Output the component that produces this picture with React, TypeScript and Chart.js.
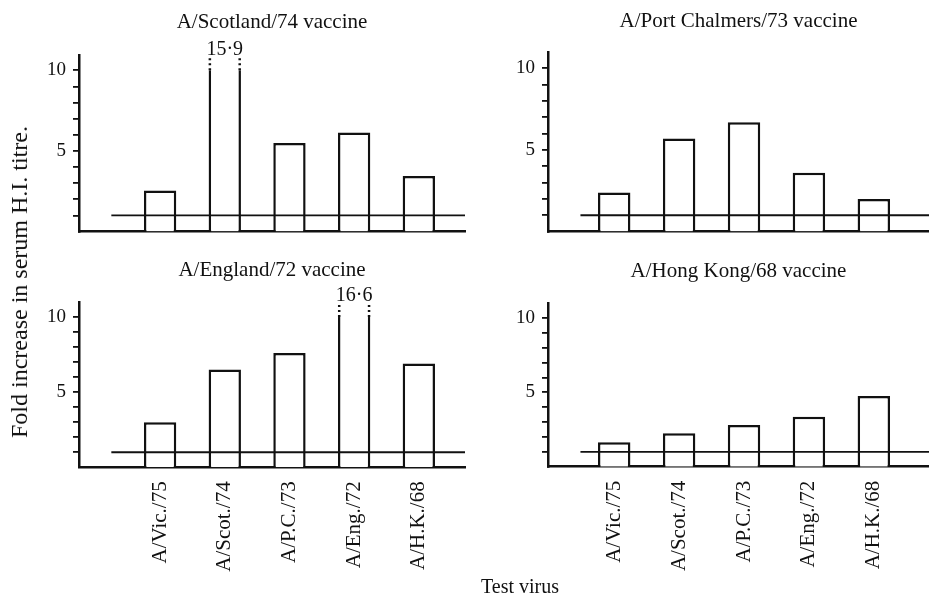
import React, { useEffect, useRef } from 'react';
import { Chart, registerables } from 'chart.js';

Chart.register(...registerables);

// ---------- data ----------
const CATEGORIES = ['A/Vic./75', 'A/Scot./74', 'A/P.C./73', 'A/Eng./72', 'A/H.K./68'];
const SCOTLAND_74 = [2.55, 15.9, 5.5, 6.15, 3.45];
const PORT_CHALMERS_73 = [2.4, 5.7, 6.7, 3.6, 2.0];
const ENGLAND_72 = [3.0, 6.5, 7.6, 16.6, 6.9];
const HONG_KONG_68 = [1.65, 2.25, 2.8, 3.35, 4.75];
const Y_TICK_VALUES = [1, 2, 3, 4, 5, 6, 7, 8, 9, 10];
const Y_TICK_LABELS = [5, 10];
const Y_BREAK = 10;
const NO_CHANGE_LEVEL = 1;
const Y_AXIS_TITLE = 'Fold increase in serum H.I. titre.';
const X_AXIS_TITLE = 'Test virus';

// ---------- style ----------
const INK = '#111';
const SERIF = "'Liberation Serif', 'DejaVu Serif', 'Times New Roman', serif";

type PanelCfg = {
  title: string;
  values: number[];
  left: number;
  top: number;
  width: number;
  height: number;
  yAxisWidth: number;
  padRight: number;
  padBottom: number;
  titleTop: number;
  titleBottom: number;
  xAxisHeight: number;
  xMin: number;
  xMax: number;
  yMax: number;
  showLabels: boolean;
};

const PANELS: PanelCfg[] = [
  {
    title: 'A/Scotland/74 vaccine', values: SCOTLAND_74,
    left: 0, top: 0, width: 470, height: 250,
    yAxisWidth: 79, padRight: 5, padBottom: 14.5, titleTop: 10, titleBottom: 21,
    xAxisHeight: 0, xMin: -1.254, xMax: 4.714, yMax: 10.95, showLabels: false,
  },
  {
    title: 'A/Port Chalmers/73 vaccine', values: PORT_CHALMERS_73,
    left: 470, top: 0, width: 459, height: 250,
    yAxisWidth: 78, padRight: 0, padBottom: 14, titleTop: 9, titleBottom: 19,
    xAxisHeight: 0, xMin: -1.02, xMax: 4.85, yMax: 11.0, showLabels: false,
  },
  {
    title: 'A/England/72 vaccine', values: ENGLAND_72,
    left: 0, top: 250, width: 470, height: 350,
    yAxisWidth: 79, padRight: 5, padBottom: 0, titleTop: 8, titleBottom: 20,
    xAxisHeight: 132.7, xMin: -1.254, xMax: 4.714, yMax: 11.0, showLabels: true,
  },
  {
    title: 'A/Hong Kong/68 vaccine', values: HONG_KONG_68,
    left: 470, top: 250, width: 459, height: 350,
    yAxisWidth: 78, padRight: 0, padBottom: 0, titleTop: 9, titleBottom: 20,
    xAxisHeight: 133.3, xMin: -1.02, xMax: 4.85, yMax: 11.0, showLabels: true,
  },
];

const decorations = {
  id: 'decorations',
  afterDatasetsDraw(chart: any) {
    const { ctx, chartArea } = chart;
    const xs = chart.scales.x;
    const ys = chart.scales.y;
    const meta = chart.getDatasetMeta(0);
    const pts = chart.data.datasets[0].data as { x: number; y: number }[];
    ctx.save();
    meta.data.forEach((el: any, i: number) => {
      const v = pts[i].y;
      if (v <= Y_BREAK) return;
      const yb = ys.getPixelForValue(Y_BREAK);
      const half = el.width / 2;
      ctx.fillStyle = '#fff';
      ctx.fillRect(el.x - half - 2, chartArea.top - 3, el.width + 4, yb - chartArea.top + 3);
      ctx.strokeStyle = INK;
      ctx.lineWidth = 2.5;
      ctx.setLineDash([2, 3]);
      [el.x - half + 1.25, el.x + half - 1.25].forEach((px) => {
        ctx.beginPath();
        ctx.moveTo(px, yb);
        ctx.lineTo(px, yb - 13);
        ctx.stroke();
      });
      ctx.setLineDash([]);
      ctx.fillStyle = INK;
      ctx.font = `20px ${SERIF}`;
      ctx.textAlign = 'center';
      ctx.textBaseline = 'middle';
      ctx.fillText(v.toFixed(1).replace('.', '·'), el.x, yb - 21);
    });
    const refY = ys.getPixelForValue(NO_CHANGE_LEVEL);
    ctx.strokeStyle = INK;
    ctx.lineWidth = 1.8;
    ctx.beginPath();
    ctx.moveTo(xs.getPixelForValue(xs.min + 0.5), refY);
    ctx.lineTo(chartArea.right, refY);
    ctx.stroke();
    ctx.restore();
  },
};

function Panel({ p }: { p: PanelCfg }) {
  const ref = useRef<HTMLCanvasElement | null>(null);
  useEffect(() => {
    if (!ref.current) return;
    const chart = new Chart(ref.current, {
      type: 'bar',
      data: {
        datasets: [
          {
            data: CATEGORIES.map((_, i) => ({ x: i, y: p.values[i] })) as any,
            backgroundColor: '#fff',
            borderColor: INK,
            borderWidth: 2.5,
            borderSkipped: 'start',
            barPercentage: 0.5,
            categoryPercentage: 1,
            clip: 0 as any,
          },
        ],
      },
      options: {
        responsive: false,
        animation: false,
        events: [],
        layout: { padding: { left: 0, right: p.padRight, top: 0, bottom: p.padBottom } },
        plugins: {
          legend: { display: false },
          tooltip: { enabled: false },
          title: {
            display: true,
            text: p.title,
            fullSize: false,
            color: INK,
            font: { family: SERIF, size: 21, weight: 'normal', lineHeight: '24px' as any },
            padding: { top: p.titleTop, bottom: p.titleBottom },
          },
        },
        scales: {
          x: {
            type: 'linear',
            min: p.xMin,
            max: p.xMax,
            offset: false,
            grid: { display: false },
            border: { display: true, color: INK, width: 2.5 },
            ticks: {
              display: p.showLabels,
              autoSkip: false,
              minRotation: 90,
              maxRotation: 90,
              padding: 6,
              color: INK,
              font: { family: SERIF, size: 21 },
              callback: (v: any) => CATEGORIES[Math.round(Number(v))] ?? '',
            },
            afterBuildTicks: (s: any) => {
              s.ticks = CATEGORIES.map((_, i) => ({ value: i }));
            },
            afterFit: (s: any) => {
              s.height = p.xAxisHeight;
            },
          },
          y: {
            type: 'linear',
            min: 0,
            max: p.yMax,
            grid: {
              display: true,
              drawOnChartArea: false,
              drawTicks: true,
              tickLength: 6,
              color: INK,
              lineWidth: 1.8,
            },
            border: { display: true, color: INK, width: 2.5 },
            ticks: {
              autoSkip: false,
              stepSize: 1,
              padding: 7,
              color: INK,
              font: { family: SERIF, size: 19 },
              callback: (v: any) => (Y_TICK_LABELS.includes(Number(v)) ? String(v) : ''),
            },
            afterBuildTicks: (s: any) => {
              s.ticks = Y_TICK_VALUES.map((v) => ({ value: v }));
            },
            afterFit: (s: any) => {
              s.width = p.yAxisWidth;
            },
          },
        },
      } as any,
      plugins: [decorations],
    });
    return () => chart.destroy();
  }, [p]);
  return (
    <canvas
      ref={ref}
      width={p.width}
      height={p.height}
      style={{ position: 'absolute', left: p.left, top: p.top, width: p.width, height: p.height }}
    />
  );
}

export default function App() {
  return (
    <div
      style={{
        position: 'fixed',
        left: 0,
        top: 0,
        width: 929,
        height: 600,
        background: '#fff',
        overflow: 'hidden',
      }}
    >
      {PANELS.map((p) => (
        <Panel key={p.title} p={p} />
      ))}
      <div
        style={{
          position: 'absolute',
          left: 19,
          top: 282,
          transform: 'translate(-50%, -50%) rotate(-90deg)',
          whiteSpace: 'nowrap',
          fontFamily: SERIF,
          fontSize: 24,
          color: INK,
          lineHeight: 1,
        }}
      >
        {Y_AXIS_TITLE}
      </div>
      <div
        style={{
          position: 'absolute',
          left: 520,
          top: 586,
          transform: 'translate(-50%, -50%)',
          whiteSpace: 'nowrap',
          fontFamily: SERIF,
          fontSize: 20,
          color: INK,
          lineHeight: 1,
        }}
      >
        {X_AXIS_TITLE}
      </div>
    </div>
  );
}
